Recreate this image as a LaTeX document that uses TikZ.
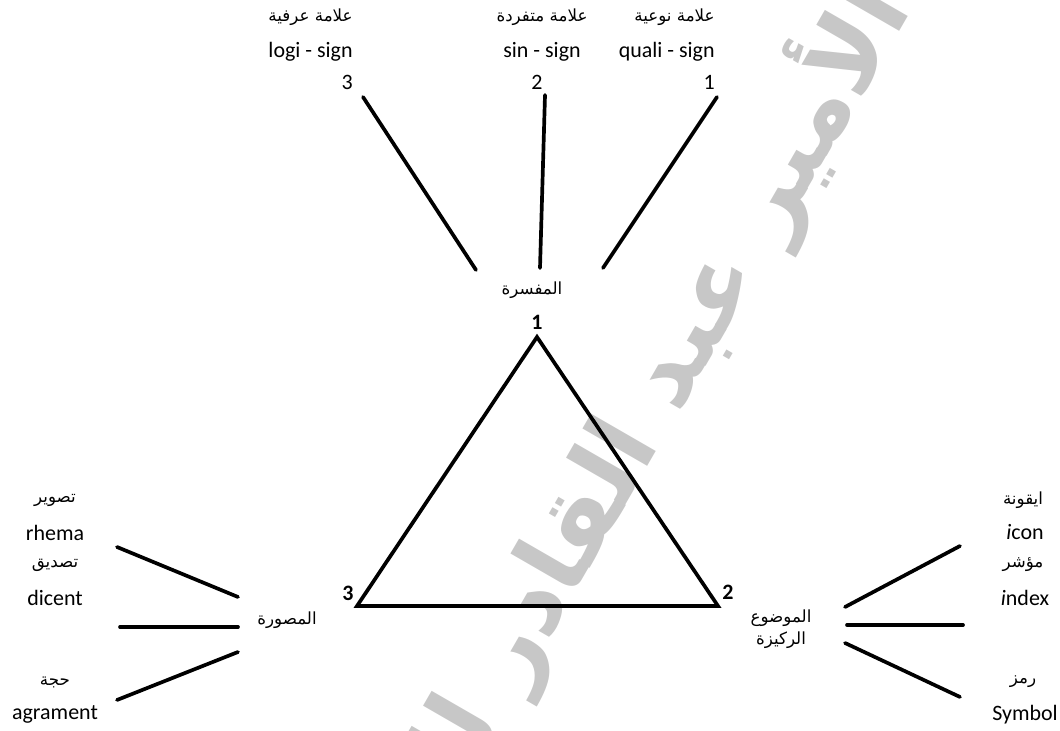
\documentclass[tikz,border=0pt]{standalone}
\usepackage{fontspec}
\setmainfont{Carlito}
\newfontfamily\arabicfont[Script=Arabic]{DejaVu Sans}
\TeXXeTstate=1
\usetikzlibrary{positioning}

\begin{document}
\begin{tikzpicture}[
    linea/.style={line width=2.1pt, line cap=round},
    lat/.style={inner sep=0pt, font=\fontsize{12.5}{15}\selectfont},
    arab/.style={inner sep=0pt, font=\fontsize{9.5}{11}\arabicfont},
    vert/.style={inner sep=0pt, font=\fontsize{12.5}{15}\selectfont\bfseries}
]
    \useasboundingbox (0,0) rectangle (21.2,14.62);

    % Filigrana
    \begin{scope}
        \clip (0,0) rectangle (21.2,14.62);
        \node[rotate=60, text=black!22, font=\fontsize{56}{64}\arabicfont\bfseries] (filigrana) at (12.0,5.0) {\beginR الأمير عبد القادر للعلوم\endR};
    \end{scope}

    % Colonne in alto
    \foreach \i/\x/\anc/\arb/\en in {3/7.06/east/علامة عرفية/logi - sign,
                                     2/10.84/center/علامة متفردة/sin - sign,
                                     1/14.3/east/علامة نوعية/quali - sign} {
        \node[arab, anchor=\anc] (ta\i) at (\x,14.28) {\beginR \arb\endR};
        \node[lat, anchor=\anc] (te\i) at (\x,13.58) {\en};
    }
    \node[lat, anchor=east] (td3) at (7.06,12.98) {3};
    \node[lat] (td2) at (10.74,12.98) {2};
    \node[lat, anchor=east] (td1) at (14.3,12.98) {1};

    % Linee verso l'interpretante
    \coordinate (a3) at (7.26,12.68);  \coordinate (b3) at (9.52,9.22);
    \coordinate (a2) at (10.9,12.72);  \coordinate (b2) at (10.8,9.26);
    \coordinate (a1) at (14.34,12.68); \coordinate (b1) at (12.06,9.26);
    \foreach \i in {1,2,3}
        \draw[linea] (a\i) -- (b\i);

    % Triangolo
    \coordinate (v1) at (10.74,7.88);
    \coordinate (v2) at (14.36,2.5);
    \coordinate (v3) at (7.14,2.5);
    \draw[linea, line join=miter] (v1) -- (v2) -- (v3) -- cycle;
    \node[arab] (mufassira) at (10.64,8.82) {\beginR المفسرة\endR};
    \node[vert] (n1) at (10.74,8.18) {1};
    \node[vert] (n2) at (14.56,2.78) {2};
    \node[vert] (n3) at (6.96,2.76) {3};
    \node[arab] (musawwara) at (5.74,2.22) {\beginR المصورة\endR};
    \node[arab] (mawdu) at (15.62,2.26) {\beginR الموضوع\endR};
    \node[arab] (rakiza) at (15.62,1.82) {\beginR الركيزة\endR};

    % Lato sinistro
    \foreach \i/\y/\arb/\en in {1/4.62/تصوير/rhema, 2/3.32/تصديق/dicent, 3/0.98/حجة/agrament} {
        \node[arab] (sa\i) at (1.1,\y) {\beginR \arb\endR};
        \node[lat] (se\i) at (1.1,\y-0.65) {\en};
    }
    \coordinate (sl1) at (2.34,3.68); \coordinate (sr1) at (4.76,2.68);
    \coordinate (sl2) at (2.4,2.08);  \coordinate (sr2) at (4.76,2.08);
    \coordinate (sl3) at (2.34,0.62); \coordinate (sr3) at (4.76,1.58);
    \foreach \i in {1,2,3}
        \draw[linea] (sl\i) -- (sr\i);

    % Lato destro
    \foreach \i/\y/\arb/\en in {1/4.62/ايقونة/{\itshape i}con, 2/3.32/مؤشر/{\itshape i}ndex, 3/0.98/رمز/Symbol} {
        \node[arab] (da\i) at (20.46,\y) {\beginR \arb\endR};
        \node[lat] (de\i) at (20.5,\y-0.65) {\en};
    }
    \coordinate (dl1) at (16.9,2.48);  \coordinate (dr1) at (19.2,3.7);
    \coordinate (dl2) at (16.94,2.12); \coordinate (dr2) at (19.26,2.12);
    \coordinate (dl3) at (16.9,1.76);  \coordinate (dr3) at (19.2,0.68);
    \foreach \i in {1,2,3}
        \draw[linea] (dl\i) -- (dr\i);

\end{tikzpicture}
\end{document}
